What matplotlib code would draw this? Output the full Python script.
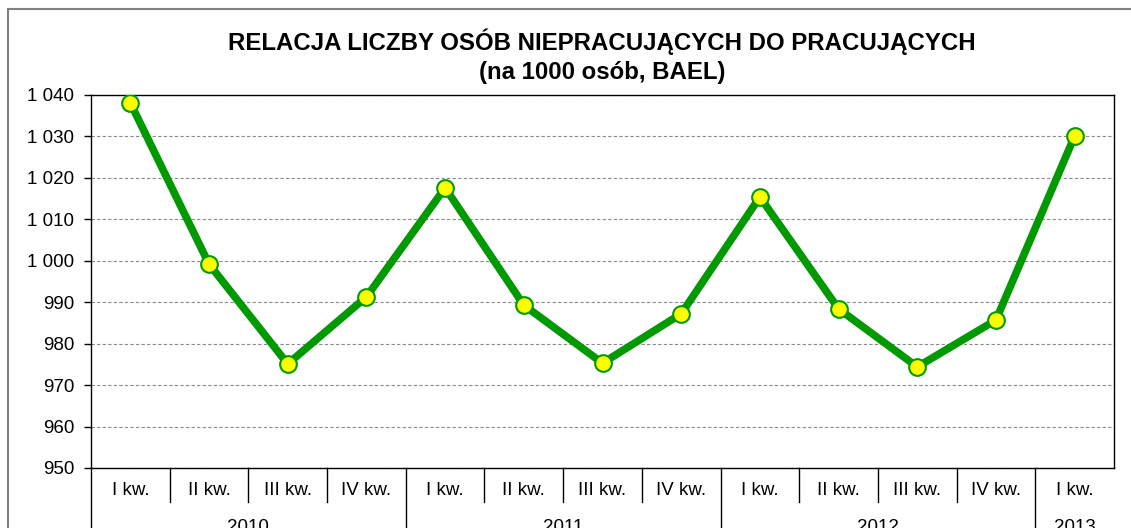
import matplotlib.pyplot as plt
import matplotlib.transforms as mtransforms
from matplotlib.patches import Rectangle

plt.rcParams['font.family'] = ['Liberation Sans', 'DejaVu Sans']

# dane
kwartaly = ["I kw.", "II kw.", "III kw.", "IV kw.",
            "I kw.", "II kw.", "III kw.", "IV kw.",
            "I kw.", "II kw.", "III kw.", "IV kw.",
            "I kw."]
lata = ["2010", "2011", "2012", "2013"]
kwartaly_w_roku = [4, 4, 4, 1]
relacja = [1038.1, 999.2, 975.1, 991.3,
           1017.6, 989.3, 975.3, 987.2,
           1015.4, 988.4, 974.4, 985.7,
           1030.1]

fig = plt.figure(figsize=(11.31, 5.28), dpi=100)
W, H = 1131, 528

# ramka obszaru wykresu
fig.patches.append(Rectangle((8 / W, -0.1), 1.2, (H - 9) / H + 0.1,
                             transform=fig.transFigure, fill=False,
                             edgecolor='#808080', linewidth=1.5))

ax = fig.add_axes([91 / W, (H - 468) / H, (1114 - 91) / W, (468 - 95) / H])

x = list(range(len(relacja)))
ax.plot(x, relacja, color='#009900', linewidth=5.5, marker='o',
        markersize=12, markerfacecolor='#FFFF00', markeredgecolor='#009900',
        markeredgewidth=1.5, zorder=3)

ax.set_xlim(-0.5, len(relacja) - 0.5)
ax.set_ylim(950, 1040)
ax.set_yticks(range(950, 1041, 10))
ax.set_yticklabels([f"{v:,}".replace(",", " ") for v in range(950, 1041, 10)],
                   fontsize=13.5)
ax.tick_params(axis='y', length=5, width=1, pad=7)
ax.set_xticks([])
ax.yaxis.grid(True, linestyle=(0, (3, 2)), color='#8a8a8a', linewidth=0.8)
for s in ax.spines.values():
    s.set_color('black')
    s.set_linewidth(1.0)

# dwupoziomowa oś kategorii
tr = mtransforms.blended_transform_factory(ax.transData, ax.transAxes)
pos = -0.5
granice_lat = [-0.5]
for n in kwartaly_w_roku:
    pos += n
    granice_lat.append(pos)
for i in range(1, len(kwartaly)):
    b = i - 0.5
    y_end = -0.2 if b in granice_lat else -0.092
    ax.plot([b, b], [0, y_end], transform=tr, color='black', linewidth=1,
            clip_on=False)
ax.plot([-0.5, -0.5], [0, -0.2], transform=tr, color='black', linewidth=1,
        clip_on=False)
for i, k in enumerate(kwartaly):
    ax.text(i, -0.06, k, transform=tr, ha='center', va='center', fontsize=13.5)
start = 0
for rok, n in zip(lata, kwartaly_w_roku):
    ax.text(start + (n - 1) / 2, -0.16, rok, transform=tr, ha='center',
            va='center', fontsize=13.5)
    start += n

tx = 602 / W
fig.text(tx, (H - 42) / H, "RELACJA LICZBY OSÓB NIEPRACUJĄCYCH DO PRACUJĄCYCH",
         ha='center', va='center', fontsize=17.3, fontweight='bold')
fig.text(tx, (H - 72) / H, "(na 1000 osób, BAEL)",
         ha='center', va='center', fontsize=17.3, fontweight='bold')

fig.savefig("out.png", dpi=100)
